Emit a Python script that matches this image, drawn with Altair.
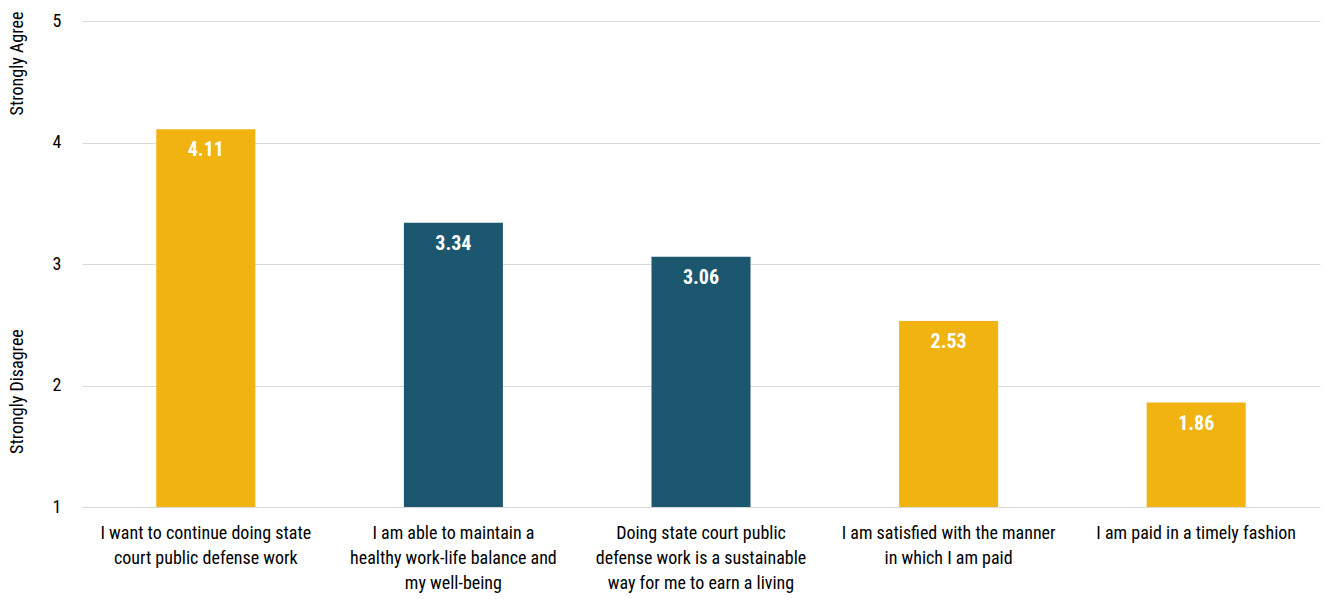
import altair as alt
import pandas as pd

categories = [
    "I want to continue doing state|court public defense work",
    "I am able to maintain a|healthy work-life balance and|my well-being",
    "Doing state court public|defense work is a sustainable|way for me to earn a living",
    "I am satisfied with the manner|in which I am paid",
    "I am paid in a timely fashion",
]
values = [4.11, 3.34, 3.06, 2.53, 1.86]
groups = ["gold", "teal", "teal", "gold", "gold"]
y_ticks = [1, 2, 3, 4, 5]
side_labels = ["Strongly Agree", "Strongly Disagree"]
side_label_y = [4.65, 1.95]

FONT = "Liberation Sans Narrow, Arial Narrow, Roboto Condensed, Liberation Sans, Arial, sans-serif"

df = pd.DataFrame({"cat": categories, "val": values, "grp": groups, "base": [1] * len(values)})
side_df = pd.DataFrame({"txt": side_labels, "yy": side_label_y})

x_enc = alt.X(
    "cat:N",
    sort=None,
    scale=alt.Scale(paddingInner=0.6, paddingOuter=0.3),
    axis=alt.Axis(
        title=None,
        labelAngle=0,
        labelExpr="split(datum.label, '|')",
        labelFont=FONT,
        labelFontSize=18,
        labelColor="#000000",
        labelLineHeight=25,
        labelPadding=17,
        labelLimit=0,
        ticks=False,
        domain=False,
    ),
)
y_scale = alt.Scale(domain=[1, 5], zero=False, nice=False)

bars = alt.Chart(df).mark_bar().encode(
    x=x_enc,
    y=alt.Y(
        "val:Q",
        scale=y_scale,
        axis=alt.Axis(
            title=None,
            values=y_ticks,
            format="d",
            labelFont=FONT,
            labelFontSize=18,
            labelColor="#000000",
            labelPadding=21,
            ticks=False,
            domain=False,
            grid=True,
            gridColor="#d9d9d9",
            gridWidth=1,
        ),
    ),
    y2="base:Q",
    color=alt.Color(
        "grp:N",
        scale=alt.Scale(domain=["gold", "teal"], range=["#F0B310", "#1B5870"]),
        legend=None,
    ),
)

labels = alt.Chart(df).mark_text(
    baseline="top", dy=11, color="white", fontWeight="bold", fontSize=20, font=FONT
).encode(
    x=alt.X("cat:N", sort=None),
    y=alt.Y("val:Q", scale=y_scale),
    text=alt.Text("val:Q", format=".2f"),
)

side = alt.Chart(side_df).mark_text(
    angle=270, align="center", baseline="middle", fontSize=18, font=FONT, color="#000000"
).encode(
    x=alt.value(-64),
    y=alt.Y("yy:Q", scale=y_scale),
    text="txt:N",
)

chart = (
    alt.layer(bars, labels, side)
    .properties(
        width=1238,
        height=486,
        padding={"left": 82, "top": 21, "right": 7, "bottom": 92},
        autosize=alt.AutoSizeParams(type="none"),
        background="white",
    )
    .configure_view(stroke=None)
)

chart.save("out.html", embed_options={"renderer": "svg", "actions": False})
